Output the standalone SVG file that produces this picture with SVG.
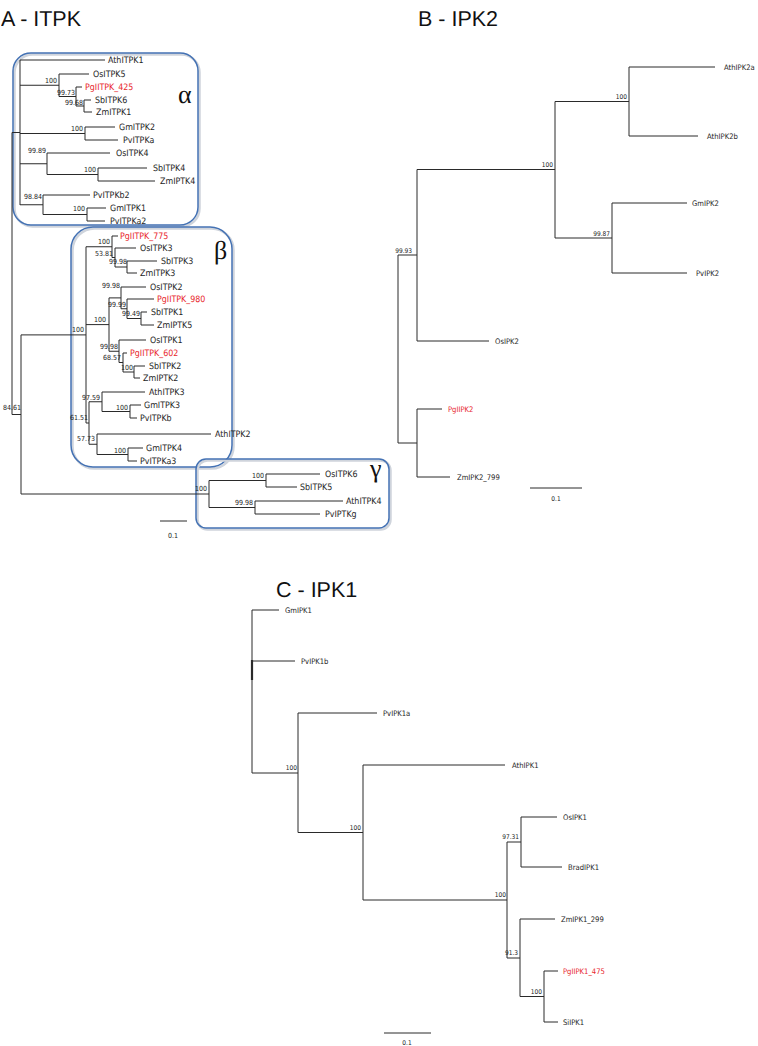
<svg xmlns="http://www.w3.org/2000/svg" width="758" height="1046" viewBox="0 0 758 1046">
<style>
.br{stroke:#2a2a2a;stroke-width:1;fill:none}
text{text-rendering:geometricPrecision}
.lf{font-family:"DejaVu Sans Condensed","DejaVu Sans","Liberation Sans",sans-serif;font-stretch:condensed;font-size:8.8px;fill:#1e1e1e}
.lb{font-family:"DejaVu Sans Condensed","DejaVu Sans","Liberation Sans",sans-serif;font-stretch:condensed;font-size:7.6px;fill:#1e1e1e}
.red{fill:#e8262b}
.sp{font-family:"DejaVu Sans Condensed","DejaVu Sans","Liberation Sans",sans-serif;font-stretch:condensed;font-size:7px;fill:#222;text-anchor:end}
.sb{font-family:"DejaVu Sans Condensed","DejaVu Sans","Liberation Sans",sans-serif;font-stretch:condensed;font-size:6.5px;fill:#222;text-anchor:end}
.box{fill:none;stroke:#4472b4;stroke-width:1.5}
.shd{fill:none;stroke:#cfd4dc;stroke-width:2.5}
.gk{font-family:"Liberation Serif","DejaVu Serif",serif;font-size:26px;fill:#111}
.ttl{font-family:"Liberation Sans",Arial,sans-serif;font-size:21.5px;fill:#111}
.gs{opacity:0.995}
</style>

<g id="titles" class="gs">
<text class="ttl" x="1" y="26">A - ITPK</text>
<text class="ttl" x="418" y="26">B - IPK2</text>
<text class="ttl" x="276" y="597">C - IPK1</text>
</g>

<!-- clade boxes -->
<g id="box-alpha">
<rect class="shd" x="14.5" y="54.5" width="185" height="172" rx="18"/>
<rect class="box" x="13" y="53" width="185" height="172" rx="18"/>
<text class="gk" x="178" y="103">α</text>
</g>
<g id="box-beta">
<rect class="shd" x="72.5" y="228.5" width="161" height="240" rx="22"/>
<rect class="box" x="71" y="227" width="161" height="240" rx="22"/>
<text class="gk" x="214" y="259">β</text>
</g>
<g id="box-gamma">
<rect class="shd" x="197.5" y="460.5" width="193" height="69" rx="10"/>
<rect class="box" x="196" y="459" width="193" height="69" rx="10"/>
<text class="gk" x="370" y="477">γ</text>
</g>

<g id="connectors" class="br">
<!-- Panel A -->
<path d="M12,132.5V414.5M12,132.5H20M12,414.5H21"/>
<path d="M20,60V205M20,60H105"/>
<path d="M20,85.25H59M59,74V96.5M59,74H89M59,96.5H76M76,87V106M76,87H82M76,106H84M84,100V112M84,100H91M84,112H92"/>
<path d="M20,133.5H85M85,127V140M85,127H115M85,140H118"/>
<path d="M20,163.75H47M47,153V174.5M47,153H110M47,174.5H98M98,168V181M98,168H147M98,181H155"/>
<path d="M20,204.75H43M43,195V214.5M43,195H90M43,214.5H87M87,208V221M87,208H106M87,221H105"/>
<!-- 84.61 node -->
<path d="M21,334.9V494M21,334.9H86M21,494H209"/>
<!-- beta -->
<path d="M86,246.75V423"/>
<path d="M86,246.75H112M112,236V257.5M112,236H118M112,257.5H115M115,248V267M115,248H136M115,267H127M127,261V273M127,261H157M127,273H137"/>
<path d="M86,324.6H109M109,297.9V351.25"/>
<path d="M109,297.9H121M121,287V308.75M121,287H146M121,308.75H127M127,299V318.5M127,299H154M127,318.5H141M141,312V325M141,312H147M141,325H154"/>
<path d="M109,351.25H119M119,340V362.5M119,340H146M119,362.5H123M123,353V372M123,353H127M123,372H134M134,366V378M134,366H145M134,378H140"/>
<path d="M86,423H89M89,401.75V444.25M89,401.75H102M102,392V411.5M102,392H145M102,411.5H130M130,405V418M130,405H141M130,418H137"/>
<path d="M89,444.25H97M97,434V454.5M97,434H211M97,454.5H128M128,448V461M128,448H143M128,461H137"/>
<!-- gamma -->
<path d="M209,480.5V507.5M209,480.5H266M266,474V487M266,474H320M266,487H297M209,507.5H255M255,501V514M255,501H343M255,514H320"/>
<!-- scale A -->
<path d="M160,521H187"/>

<!-- Panel B -->
<path d="M398,255V443M398,255H417M417,169.5V341M417,169.5H555M555,101.5V238M555,101.5H629M629,67V136M629,67H715M629,136H698M555,238H612M612,203V273M612,203H687M612,273H687M417,341H489"/>
<path d="M398,443H417M417,409V477M417,409H442M417,477H450"/>
<path d="M530,488H582"/>

<!-- Panel C -->
<path d="M252,610V773M252,610H279M252,661H295M252,773H298M298,713V832.5M298,713H377M298,832.5H363M363,765V900M363,765H505M363,900H507M507,842V958M507,842H521M521,817V867M521,817H557M521,867H562M507,958H520M520,919V996.5M520,919H555M520,996.5H544M544,971V1022M544,971H558M544,1022H558"/>
<path d="M252,660V680" style="stroke-width:2.2"/>
<path d="M384,1033H431"/>
</g>

<!-- support values panel A -->
<g id="supports-A" class="gs">
<text class="sp" x="57" y="83">100</text>
<text class="sp" x="75" y="95">99.73</text>
<text class="sp" x="83" y="105">99.68</text>
<text class="sp" x="83" y="131">100</text>
<text class="sp" x="46" y="153">99.89</text>
<text class="sp" x="96" y="172">100</text>
<text class="sp" x="42" y="199">98.84</text>
<text class="sp" x="85" y="211">100</text>
<text class="sp" x="110" y="244">100</text>
<text class="sp" x="113" y="256">53.81</text>
<text class="sp" x="127" y="264">99.98</text>
<text class="sp" x="120" y="288">99.98</text>
<text class="sp" x="126" y="307">99.99</text>
<text class="sp" x="140" y="316">99.49</text>
<text class="sp" x="106" y="322">100</text>
<text class="sp" x="84" y="332">100</text>
<text class="sp" x="118" y="349">99.98</text>
<text class="sp" x="121" y="360">68.57</text>
<text class="sp" x="133" y="370">100</text>
<text class="sp" x="100" y="400">97.59</text>
<text class="sp" x="128" y="410">100</text>
<text class="sp" x="88" y="420">61.51</text>
<text class="sp" x="95" y="441">57.73</text>
<text class="sp" x="126" y="453">100</text>
<text class="sp" x="21" y="410">84.61</text>
<text class="sp" x="207" y="491">100</text>
<text class="sp" x="264" y="478">100</text>
<text class="sp" x="253" y="505">99.98</text>
<text class="sp" x="173" y="538" style="text-anchor:middle">0.1</text>
</g>

<!-- leaves panel A -->
<g id="leaves-A" class="lf gs">
<text id="AthITPK1" x="108" y="63">AthITPK1</text>
<text id="OsITPK5" x="93" y="77">OsITPK5</text>
<text id="PgIITPK_425" class="red" x="85" y="90">PgIITPK_425</text>
<text id="SbITPK6" x="95" y="103">SbITPK6</text>
<text id="ZmITPK1" x="96" y="115">ZmITPK1</text>
<text id="GmITPK2" x="119" y="130">GmITPK2</text>
<text id="PvITPKa" x="123" y="143">PvITPKa</text>
<text id="OsITPK4" x="116" y="156">OsITPK4</text>
<text id="SbITPK4" x="153" y="171">SbITPK4</text>
<text id="ZmIPTK4" x="160" y="184">ZmIPTK4</text>
<text id="PvITPKb2" x="93" y="198">PvITPKb2</text>
<text id="GmITPK1" x="110" y="211">GmITPK1</text>
<text id="PvITPKa2" x="110" y="224">PvITPKa2</text>
<text id="PgIITPK_775" class="red" x="120" y="239">PgIITPK_775</text>
<text id="OsITPK3" x="140" y="251">OsITPK3</text>
<text id="SbITPK3" x="161" y="264">SbITPK3</text>
<text id="ZmITPK3" x="140" y="276">ZmITPK3</text>
<text id="OsITPK2" x="150" y="290">OsITPK2</text>
<text id="PgIITPK_980" class="red" x="157" y="302">PgIITPK_980</text>
<text id="SbITPK1" x="151" y="315">SbITPK1</text>
<text id="ZmIPTK5" x="157" y="328">ZmIPTK5</text>
<text id="OsITPK1" x="150" y="343">OsITPK1</text>
<text id="PgIITPK_602" class="red" x="130" y="356">PgIITPK_602</text>
<text id="SbITPK2" x="149" y="369">SbITPK2</text>
<text id="ZmIPTK2" x="143" y="381">ZmIPTK2</text>
<text id="AthITPK3" x="149" y="395">AthITPK3</text>
<text id="GmITPK3" x="144" y="408">GmITPK3</text>
<text id="PvITPKb" x="140" y="421">PvITPKb</text>
<text id="AthITPK2" x="215" y="437">AthITPK2</text>
<text id="GmITPK4" x="146" y="451">GmITPK4</text>
<text id="PvITPKa3" x="140" y="464">PvITPKa3</text>
<text id="OsITPK6" x="325" y="477">OsITPK6</text>
<text id="SbITPK5" x="300" y="490">SbITPK5</text>
<text id="AthITPK4" x="346" y="504">AthITPK4</text>
<text id="PvIPTKg" x="325" y="517">PvIPTKg</text>
</g>

<!-- Panel B -->
<g id="supports-B" class="gs">
<text class="sb" x="627" y="99">100</text>
<text class="sb" x="553" y="167">100</text>
<text class="sb" x="610" y="236">99.87</text>
<text class="sb" x="412" y="253">99.93</text>
<text class="sb" x="556" y="501" style="text-anchor:middle">0.1</text>
</g>
<g id="leaves-B" class="lb gs">
<text id="AthIPK2a" x="724" y="70">AthIPK2a</text>
<text id="AthIPK2b" x="707" y="139">AthIPK2b</text>
<text id="GmIPK2" x="692" y="206">GmIPK2</text>
<text id="PvIPK2" x="696" y="276">PvIPK2</text>
<text id="OsIPK2" x="495" y="344">OsIPK2</text>
<text id="PgIPK2" class="red" x="448" y="412">PgIIPK2</text>
<text id="ZmIPK2_799" x="457" y="480">ZmIPK2_799</text>
</g>

<!-- Panel C -->
<g id="supports-C" class="gs">
<text class="sb" x="297" y="770">100</text>
<text class="sb" x="361" y="830">100</text>
<text class="sb" x="506" y="897">100</text>
<text class="sb" x="519" y="839">97.31</text>
<text class="sb" x="518" y="955">91.3</text>
<text class="sb" x="542" y="994">100</text>
<text class="sb" x="407" y="1045" style="text-anchor:middle">0.1</text>
</g>
<g id="leaves-C" class="lb gs">
<text id="GmIPK1" x="285" y="613">GmIPK1</text>
<text id="PvIPK1b" x="301" y="664">PvIPK1b</text>
<text id="PvIPK1a" x="383" y="716">PvIPK1a</text>
<text id="AthIPK1" x="512" y="768">AthIPK1</text>
<text id="OsIPK1" x="563" y="820">OsIPK1</text>
<text id="BradIPK1" x="568" y="870">BradIPK1</text>
<text id="ZmIPK1_299" x="561" y="922">ZmIPK1_299</text>
<text id="PgIPK1_475" class="red" x="563" y="974">PgIIPK1_475</text>
<text id="SiIPK1" x="563" y="1025">SiIPK1</text>
</g>
</svg>
